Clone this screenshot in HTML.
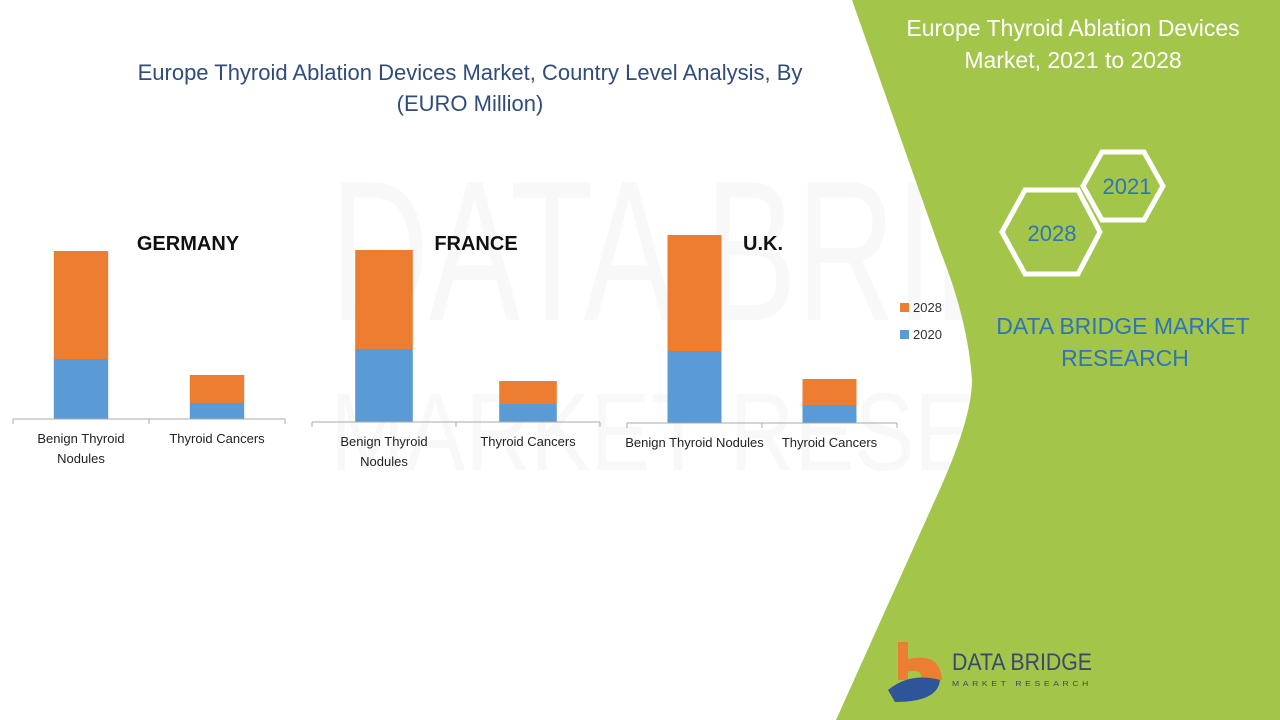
<!DOCTYPE html>
<html><head><meta charset="utf-8">
<style>
body{margin:0;width:1280px;height:720px;overflow:hidden;background:#fff;font-family:"Liberation Sans",sans-serif;}
svg{display:block}
</style></head>
<body>
<svg width="1280" height="720" viewBox="0 0 1280 720">
  <g opacity="0.035" font-family="Liberation Sans" font-size="200" fill="#555">
    <text x="330" y="320" textLength="900" lengthAdjust="spacingAndGlyphs">DATA BRIDGE</text>
    <text x="330" y="470" font-size="110" textLength="900" lengthAdjust="spacingAndGlyphs">MARKET RESEARCH</text>
  </g>
  <path fill="#a3c64a" d="M852,0 L1280,0 L1280,720 L836,720 L935,500 Q972,420 972,380 Q968,320 940,250 Z"/>
  <text x="1073" y="36" text-anchor="middle" font-size="23" fill="#fff">Europe Thyroid Ablation Devices</text>
  <text x="1073" y="68" text-anchor="middle" font-size="23" fill="#fff">Market, 2021 to 2028</text>
  <g fill="none" stroke="#fff" stroke-width="5">
    <polygon points="1102,152 1144,152 1163,186 1144,220 1102,220 1083,186"/>
  </g>
  <text x="1127" y="194" text-anchor="middle" font-size="22" fill="#2e75b6">2021</text>
  <g fill="none" stroke="#fff" stroke-width="5">
    <polygon points="1025,190 1078,190 1100,232 1078,274 1025,274 1002,232"/>
  </g>
  <text x="1052" y="241" text-anchor="middle" font-size="22" fill="#2e75b6">2028</text>
  <text x="1123" y="334" text-anchor="middle" font-size="23" fill="#2e75b6">DATA BRIDGE MARKET</text>
  <text x="1125" y="366" text-anchor="middle" font-size="23" fill="#2e75b6">RESEARCH</text>
  <g>
    <rect x="898" y="642" width="10" height="38" fill="#ed7d31"/>
    <path d="M905,660 Q940,650 942,680 L920,680 Q925,668 905,672 Z" fill="#ed7d31"/>
    <path d="M888,690 Q910,672 940,680 Q938,702 895,702 Z" fill="#2e5597"/>
    <text x="952" y="670" font-size="24" fill="#3a4a6a" textLength="140" lengthAdjust="spacingAndGlyphs">DATA BRIDGE</text>
    <text x="952" y="686" font-size="7" fill="#3a4a6a" textLength="140" lengthAdjust="spacingAndGlyphs" letter-spacing="3">MARKET RESEARCH</text>
  </g>
  <text x="470" y="80" text-anchor="middle" font-size="22" fill="#2f4c7a">Europe Thyroid Ablation Devices Market, Country Level Analysis, By</text>
  <text x="470" y="111" text-anchor="middle" font-size="22" fill="#2f4c7a">(EURO Million)</text>
  <g id="charts"></g>
  <g font-size="13" fill="#333">
    <rect x="900" y="303" width="9" height="9" fill="#ed7d31"/>
    <text x="913" y="312">2028</text>
    <rect x="900" y="330" width="9" height="9" fill="#5b9bd5"/>
    <text x="913" y="339">2020</text>
  </g>
</svg>
<script>
const countries = ["GERMANY","FRANCE","U.K."];
const categories = ["Benign Thyroid Nodules","Thyroid Cancers"];
const values2020 = [[60,16],[73,18],[72,18]];
const values2028 = [[108,28],[99,23],[116,26]];

const NS="http://www.w3.org/2000/svg";
const layout=[
 {x0:13,x1:285,base:419,title:188,wrap:true},
 {x0:312,x1:600,base:422,title:476,wrap:true},
 {x0:627,x1:897,base:423,title:763,wrap:false}
];
const scale=1.0;
function y(v,b){return b - v*scale;}
function el(t,a){const e=document.createElementNS(NS,t);for(const k in a)e.setAttribute(k,a[k]);return e;}
const g=document.getElementById('charts');
countries.forEach((c,ci)=>{
  const L=layout[ci];
  const grp=el('g',{});
  
  
  g.appendChild(grp);
  const t=el('text',{x:L.title,y:250,'text-anchor':'middle','font-size':20,'font-weight':'bold',fill:'#111'});
  t.textContent=c;
  
  
  grp.appendChild(t);
  const band=(L.x1-L.x0)/categories.length;
  categories.forEach((cat,k)=>{
    const cx=L.x0+band*(k+0.5);
    const bw=band*0.4;
    const v0=values2020[ci][k], v1=values2028[ci][k];
    const r1=el('rect',{x:cx-bw/2,y:y(v0,L.base),width:bw,height:v0*scale,fill:'#5b9bd5'});
    
    
    grp.appendChild(r1);
    const r2=el('rect',{x:cx-bw/2,y:y(v0+v1,L.base),width:bw,height:v1*scale,fill:'#ed7d31'});
    
    
    grp.appendChild(r2);
    const lab=el('text',{x:cx,'text-anchor':'middle','font-size':13,fill:'#222'});
    
    
    const words = (L.wrap && cat.length>16) ? ["Benign Thyroid","Nodules"] : [cat];
    words.forEach((w,i)=>{const ts=el('tspan',{x:cx,y:L.base+24+i*20});ts.textContent=w;lab.appendChild(ts);});
    grp.appendChild(lab);
  });
  const ax=el('path',{d:`M${L.x0},${L.base}H${L.x1}M${L.x0},${L.base}v5M${(L.x0+L.x1)/2},${L.base}v5M${L.x1},${L.base}v5`,stroke:'#aaa',fill:'none'});
  
  
  grp.appendChild(ax);
});
</script>
</body></html>
